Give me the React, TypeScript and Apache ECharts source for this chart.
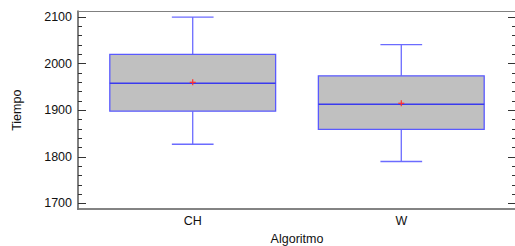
import React, { useEffect, useRef } from "react";
import * as echarts from "echarts";

const categories = ["CH", "W"];
const whiskerLow = [1827, 1790];
const q1 = [1898, 1859];
const median = [1958, 1913];
const q3 = [2020, 1974];
const whiskerHigh = [2100, 2041];
const means = [1960, 1915];
const yTicks = [1700, 1800, 1900, 2000, 2100];

const Y_MIN = 1688;
const Y_MAX = 2112;
const BOX_W = 0.795;
const CAP_W = 0.2;
const FONT = "'Liberation Sans', Arial, sans-serif";

export default function App() {
  const ref = useRef<HTMLDivElement>(null);
  useEffect(() => {
    document.body.style.margin = "0";
    const chart = echarts.init(ref.current!, null, { renderer: "svg" });
    const minorTicks: number[] = [];
    for (let v = 1700; v <= 2100; v += 20) if (v % 100 !== 0) minorTicks.push(v);

    const data = categories.map((_, i) => [i, whiskerLow[i], q1[i], median[i], q3[i], whiskerHigh[i], means[i]]);

    const axisGray = "#808080";
    const mkY = (position: string, minor: boolean, labels: boolean, extra: any = {}) => ({
      type: "value",
      position,
      min: Y_MIN,
      max: Y_MAX,
      splitLine: { show: false },
      axisLine: { show: true, onZero: false, lineStyle: { color: axisGray, width: 2 } },
      axisTick: {
        show: true,
        inside: true,
        length: minor ? 4 : 8,
        customValues: minor ? minorTicks : yTicks,
        lineStyle: { color: "#333", width: 1 },
      },
      axisLabel: labels
        ? {
            show: true,
            customValues: yTicks,
            formatter: (v: number) => String(v),
            margin: 6,
            color: "#111",
            fontSize: 12.5,
            fontFamily: FONT,
          }
        : { show: false },
      ...extra,
    });

    chart.setOption({
      animation: false,
      grid: {
        left: 78,
        top: 11.5,
        width: 438,
        height: 197.5,
        show: true,
        borderColor: axisGray,
        borderWidth: 1,
        containLabel: false,
        outerBoundsMode: "none",
      },
      xAxis: {
        type: "value",
        min: -0.55,
        max: 1.55,
        splitLine: { show: false },
        axisLine: { show: true, onZero: false, lineStyle: { color: "#707070", width: 1.5 } },
        axisTick: { show: false },
        axisLabel: {
          customValues: [0, 1],
          formatter: (v: number) => categories[Math.round(v)] ?? "",
          margin: 5,
          color: "#111",
          fontSize: 12.5,
          fontFamily: FONT,
        },
        name: "Algoritmo",
        nameLocation: "middle",
        nameGap: 23,
        nameTextStyle: { color: "#111", fontSize: 12.5, fontFamily: FONT },
      },
      yAxis: [
        mkY("left", false, true, {
          name: "Tiempo",
          nameLocation: "middle",
          nameGap: 55,
          nameRotate: 90,
          nameTextStyle: { color: "#111", fontSize: 12.5, fontFamily: FONT },
        }),
        mkY("left", true, false),
        mkY("right", false, false),
        mkY("right", true, false),
      ],
      series: [
        {
          type: "custom",
          data,
          encode: { x: 0, y: [1, 2, 3, 4, 5, 6] },
          renderItem: (params: any, api: any) => {
            const x = api.value(0);
            const lo = api.coord([x, api.value(1)]);
            const b1 = api.coord([x, api.value(2)]);
            const md = api.coord([x, api.value(3)]);
            const b3 = api.coord([x, api.value(4)]);
            const hi = api.coord([x, api.value(5)]);
            const mn = api.coord([x, api.value(6)]);
            const bw = api.size([BOX_W, 0])[0];
            const cw = api.size([CAP_W, 0])[0];
            const cx = lo[0];
            const whisk = { stroke: "#6b6bff", lineWidth: 1.3 };
            return {
              type: "group",
              children: [
                { type: "line", shape: { x1: cx, y1: hi[1], x2: cx, y2: b3[1] }, style: whisk },
                { type: "line", shape: { x1: cx, y1: b1[1], x2: cx, y2: lo[1] }, style: whisk },
                { type: "line", shape: { x1: cx - cw / 2, y1: hi[1], x2: cx + cw / 2, y2: hi[1] }, style: whisk },
                { type: "line", shape: { x1: cx - cw / 2, y1: lo[1], x2: cx + cw / 2, y2: lo[1] }, style: whisk },
                {
                  type: "rect",
                  shape: { x: cx - bw / 2, y: b3[1], width: bw, height: b1[1] - b3[1] },
                  style: { fill: "#c0c0c0", stroke: "#5a5aff", lineWidth: 1.3 },
                },
                {
                  type: "line",
                  shape: { x1: cx - bw / 2, y1: md[1], x2: cx + bw / 2, y2: md[1] },
                  style: { stroke: "#3a3aee", lineWidth: 1.4 },
                },
                { type: "line", shape: { x1: cx - 3, y1: mn[1], x2: cx + 3, y2: mn[1] }, style: { stroke: "#ff3030", lineWidth: 1.2 } },
                { type: "line", shape: { x1: cx, y1: mn[1] - 3, x2: cx, y2: mn[1] + 3 }, style: { stroke: "#ff3030", lineWidth: 1.2 } },
              ],
            };
          },
        },
      ],
    });
    return () => chart.dispose();
  }, []);
  return <div ref={ref} style={{ width: 515, height: 246, position: "absolute", left: 0, top: 0 }} />;
}
